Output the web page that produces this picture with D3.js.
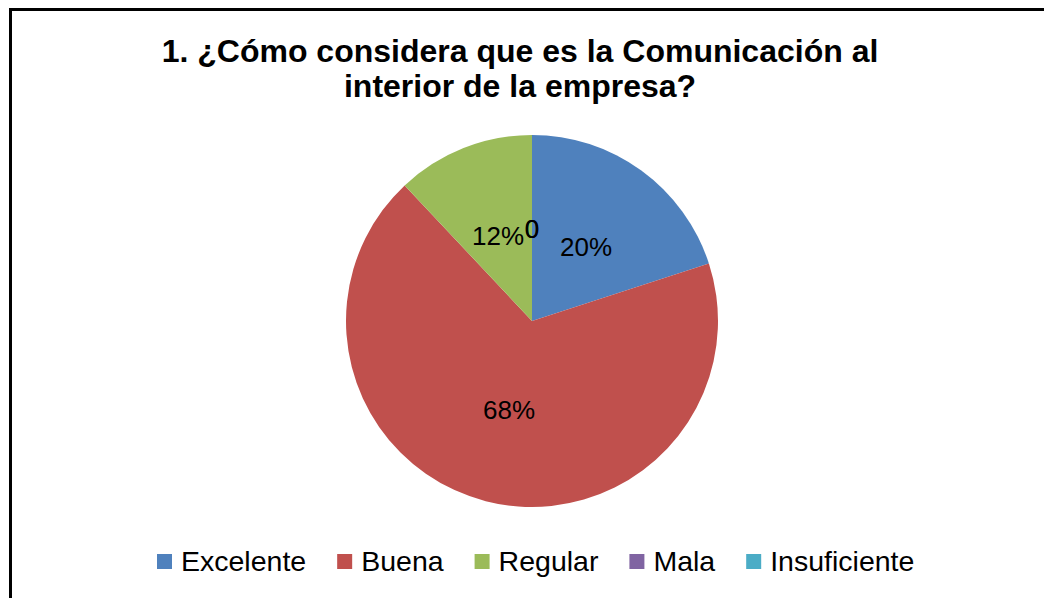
<!DOCTYPE html>
<html><head><meta charset="utf-8">
<script src="https://cdn.jsdelivr.net/npm/d3@7"></script>
<style>
html,body{margin:0;padding:0;background:#fff;}
svg{display:block;font-family:"Liberation Sans",Arial,sans-serif;}
</style></head>
<body>
<svg id="chart" width="1044" height="598"></svg>
<script>
const titleLines = ["1. ¿Cómo considera que es la Comunicación al", "interior de la empresa?"];
const categories = ["Excelente", "Buena", "Regular", "Mala", "Insuficiente"];
const values = [20, 68, 12, 0, 0];
const colors = ["#4F81BD", "#C0504D", "#9BBB59", "#8064A2", "#4BACC6"];

const svg = d3.select("#chart");

// frame
svg.append("rect").attr("x", 0).attr("y", 0).attr("width", 1044).attr("height", 598).attr("fill", "#fff");
svg.append("path").attr("d", "M10.5,620 V9.5 H1100")
  .attr("fill", "none").attr("stroke", "#000").attr("stroke-width", 3);

// title
const titleG = svg.append("g").attr("font-weight", "bold").attr("font-size", 32).attr("fill", "#000");
titleLines.forEach((t, i) => {
  titleG.append("text").attr("x", 520).attr("y", 62 + i * 34.5)
    .attr("text-anchor", "middle").text(t);
});

// pie
const cx = 532, cy = 321, r = 186;
const data = categories.map((c, i) => ({ cat: c, value: values[i], color: colors[i] }));
const pie = d3.pie().value(d => d.value).sort(null);
const arcs = pie(data);
const arc = d3.arc().innerRadius(0).outerRadius(r);
const labelArc = d3.arc().innerRadius(92).outerRadius(92);
const g = svg.append("g").attr("transform", `translate(${cx},${cy})`);
g.selectAll("path.slice").data(arcs).join("path").attr("class", "slice")
  .attr("d", arc).attr("fill", d => d.data.color);
g.selectAll("text.lbl").data(arcs).join("text").attr("class", "lbl")
  .attr("transform", d => `translate(${labelArc.centroid(d)})`)
  .attr("text-anchor", "middle").attr("dy", "0.36em")
  .attr("font-size", 26).attr("fill", "#000")
  .text(d => d.data.value > 0 ? d.data.value + "%" : "0");

// legend
const legend = svg.append("g").attr("font-size", 28.5).attr("fill", "#000");
let x = 157;
const sq = 15, gapSq = 9, gapItem = 31;
data.forEach(d => {
  const it = legend.append("g").attr("transform", `translate(${x},0)`);
  it.append("rect").attr("x", 0).attr("y", 554).attr("width", sq).attr("height", sq).attr("fill", d.color);
  const t = it.append("text").attr("x", sq + gapSq).attr("y", 570.5).text(d.cat);
  x += sq + gapSq + t.node().getComputedTextLength() + gapItem;
});
</script>
</body></html>
